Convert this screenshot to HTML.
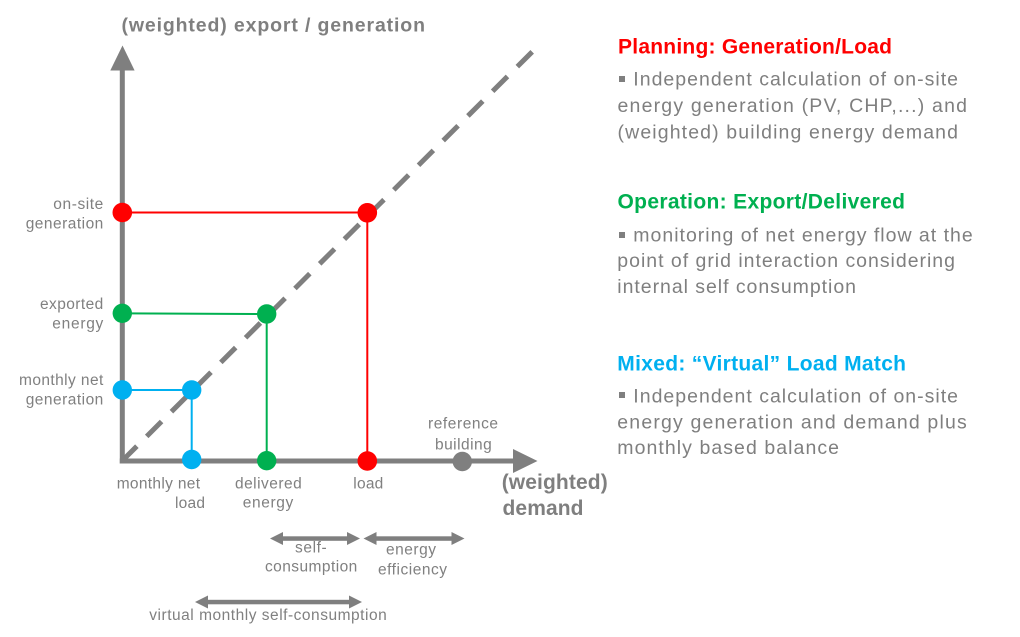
<!DOCTYPE html>
<html>
<head>
<meta charset="utf-8">
<style>
  html, body { margin:0; padding:0; background:#ffffff; }
  body { width:1020px; height:637px; overflow:hidden; }
  svg { display:block; }
  text { font-family: "Liberation Sans", Arial, sans-serif; }
  .lbl { font-size:15.5px; fill:#808080; }
  .body { font-size:19.5px; fill:#7f7f7f; }
  .head { font-size:21px; font-weight:bold; }
  .axt { font-weight:bold; fill:#7f7f7f; }
</style>
</head>
<body>
<svg width="1020" height="637" viewBox="0 0 1020 637" xmlns="http://www.w3.org/2000/svg">
  <!-- title -->
  <text class="axt" x="121.5" y="31.5" font-size="19.5" textLength="303.5" lengthAdjust="spacing">(weighted) export / generation</text>

  <!-- dashed diagonal -->
  <line x1="122" y1="461" x2="533" y2="51" stroke="#7f7f7f" stroke-width="5" stroke-dasharray="21 13.9"/>

  <!-- axes -->
  <line x1="122.3" y1="463.5" x2="122.3" y2="68" stroke="#7f7f7f" stroke-width="5"/>
  <polygon points="110.3,70.5 134.6,70.5 122.5,45.5" fill="#7f7f7f"/>
  <line x1="119.8" y1="461" x2="515" y2="461" stroke="#7f7f7f" stroke-width="5"/>
  <polygon points="513,449 513,473 537.5,461" fill="#7f7f7f"/>

  <!-- red -->
  <line x1="122" y1="212.5" x2="367.3" y2="212.5" stroke="#ff0000" stroke-width="2"/>
  <line x1="367.3" y1="212.5" x2="367.3" y2="461" stroke="#ff0000" stroke-width="2"/>
  <circle cx="122.3" cy="212.5" r="9.8" fill="#ff0000"/>
  <circle cx="367.3" cy="212.8" r="9.8" fill="#ff0000"/>
  <circle cx="367.3" cy="461" r="9.8" fill="#ff0000"/>

  <!-- green -->
  <line x1="122" y1="313.3" x2="266.7" y2="314" stroke="#00b050" stroke-width="2"/>
  <line x1="266.7" y1="314" x2="266.7" y2="461" stroke="#00b050" stroke-width="2"/>
  <circle cx="122.3" cy="313.3" r="9.7" fill="#00b050"/>
  <circle cx="266.7" cy="314" r="9.7" fill="#00b050"/>
  <circle cx="266.7" cy="460.7" r="9.7" fill="#00b050"/>

  <!-- blue -->
  <line x1="122" y1="390" x2="191.7" y2="390" stroke="#00b0f0" stroke-width="2"/>
  <line x1="191.7" y1="390" x2="191.7" y2="459.5" stroke="#00b0f0" stroke-width="2"/>
  <circle cx="122.3" cy="390" r="9.7" fill="#00b0f0"/>
  <circle cx="191.7" cy="390" r="9.7" fill="#00b0f0"/>
  <circle cx="191.7" cy="459.5" r="9.7" fill="#00b0f0"/>

  <!-- gray reference dot -->
  <circle cx="462.3" cy="461.5" r="9.7" fill="#7f7f7f"/>

  <!-- left labels -->
  <text class="lbl" x="53.3" y="208.8" textLength="50" lengthAdjust="spacing">on-site</text>
  <text class="lbl" x="25.7" y="228.3" textLength="77.6" lengthAdjust="spacing">generation</text>
  <text class="lbl" x="40" y="309" textLength="63.3" lengthAdjust="spacing">exported</text>
  <text class="lbl" x="52.3" y="328.5" textLength="51" lengthAdjust="spacing">energy</text>
  <text class="lbl" x="19" y="385" textLength="84.3" lengthAdjust="spacing">monthly net</text>
  <text class="lbl" x="25.7" y="404.3" textLength="77.6" lengthAdjust="spacing">generation</text>

  <!-- bottom axis labels -->
  <text class="lbl" x="116.7" y="488.3" textLength="83.3" lengthAdjust="spacing">monthly net</text>
  <text class="lbl" x="175" y="508" textLength="30" lengthAdjust="spacing">load</text>
  <text class="lbl" x="235" y="488.3" textLength="66.7" lengthAdjust="spacing">delivered</text>
  <text class="lbl" x="242.7" y="507.5" textLength="50.6" lengthAdjust="spacing">energy</text>
  <text class="lbl" x="353.3" y="488.3" textLength="30" lengthAdjust="spacing">load</text>
  <text class="lbl" x="428" y="428.5" textLength="70" lengthAdjust="spacing">reference</text>
  <text class="lbl" x="435" y="449.3" textLength="56.7" lengthAdjust="spacing">building</text>

  <!-- x-axis title -->
  <text class="axt" x="501.7" y="489" font-size="21" textLength="106" lengthAdjust="spacing">(weighted)</text>
  <text class="axt" x="502.5" y="515" font-size="21" textLength="81" lengthAdjust="spacing">demand</text>

  <!-- double arrows -->
  <g fill="#7f7f7f" stroke="none">
    <rect x="280" y="536.3" width="70" height="4.5"/>
    <polygon points="270,538.5 283,532 283,545"/>
    <polygon points="360,538.5 347,532 347,545"/>

    <rect x="373" y="536.3" width="82" height="4.5"/>
    <polygon points="363.5,538.5 376.5,532 376.5,545"/>
    <polygon points="464.5,538.5 451.5,532 451.5,545"/>

    <rect x="205" y="599.8" width="147" height="4.5"/>
    <polygon points="195,602 208,595.5 208,608.5"/>
    <polygon points="362,602 349,595.5 349,608.5"/>
  </g>
  <text class="lbl" x="295" y="552.3" textLength="31.7" lengthAdjust="spacing">self-</text>
  <text class="lbl" x="265" y="571.7" textLength="92.3" lengthAdjust="spacing">consumption</text>
  <text class="lbl" x="386" y="554.5" textLength="50" lengthAdjust="spacing">energy</text>
  <text class="lbl" x="378" y="574.3" textLength="69" lengthAdjust="spacing">efficiency</text>
  <text class="lbl" x="149.3" y="620" textLength="237.4" lengthAdjust="spacing">virtual monthly self-consumption</text>

  <!-- right: Planning -->
  <text class="head" x="618" y="53.3" fill="#ff0000" textLength="274" lengthAdjust="spacing">Planning: Generation/Load</text>
  <rect x="619" y="76" width="6" height="6" fill="#7f7f7f"/>
  <text class="body" x="633.3" y="85.7" textLength="324.7" lengthAdjust="spacing">Independent calculation of on-site</text>
  <text class="body" x="617.5" y="112" textLength="349.5" lengthAdjust="spacing">energy generation (PV, CHP,...) and</text>
  <text class="body" x="617.5" y="138.3" textLength="340.5" lengthAdjust="spacing">(weighted) building energy demand</text>

  <!-- right: Operation -->
  <text class="head" x="617.5" y="208.3" fill="#00b050" textLength="287.5" lengthAdjust="spacing">Operation: Export/Delivered</text>
  <rect x="619" y="232" width="6" height="6" fill="#7f7f7f"/>
  <text class="body" x="633.3" y="241.7" textLength="339.4" lengthAdjust="spacing">monitoring of net energy flow at the</text>
  <text class="body" x="617.3" y="267" textLength="337.7" lengthAdjust="spacing">point of grid interaction considering</text>
  <text class="body" x="617.3" y="293" textLength="238.7" lengthAdjust="spacing">internal self consumption</text>

  <!-- right: Mixed -->
  <text class="head" x="617.3" y="370.7" fill="#00b0f0" textLength="288.7" lengthAdjust="spacing">Mixed: “Virtual” Load Match</text>
  <rect x="619" y="392" width="6" height="6" fill="#7f7f7f"/>
  <text class="body" x="633.3" y="402.7" textLength="324.7" lengthAdjust="spacing">Independent calculation of on-site</text>
  <text class="body" x="617.3" y="428.3" textLength="349.4" lengthAdjust="spacing">energy generation and demand plus</text>
  <text class="body" x="617.3" y="454" textLength="221.7" lengthAdjust="spacing">monthly based balance</text>
</svg>
</body>
</html>
